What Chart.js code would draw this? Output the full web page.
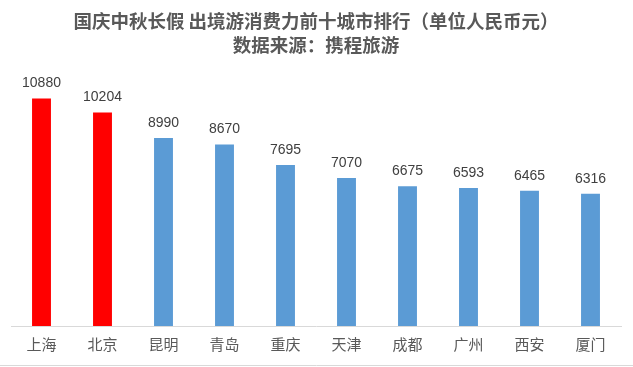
<!DOCTYPE html>
<html>
<head>
<meta charset="utf-8">
<script src="https://cdn.jsdelivr.net/npm/chart.js@4"></script>
<style>
  html, body { margin: 0; padding: 0; background: #fff; }
  #wrap { width: 633px; height: 367px; }
</style>
</head>
<body>
<div id="wrap"><canvas id="myChart" width="633" height="367"></canvas></div>
<script>
// 城市 / 消费力 (元)
var cities = ['上海', '北京', '昆明', '青岛', '重庆', '天津', '成都', '广州', '西安', '厦门'];
var spend = [10880, 10204, 8990, 8670, 7695, 7070, 6675, 6593, 6465, 6316];
var barColors = ['#FF0000', '#FF0000', '#5B9BD5', '#5B9BD5', '#5B9BD5',
                 '#5B9BD5', '#5B9BD5', '#5B9BD5', '#5B9BD5', '#5B9BD5'];
var titleLines = ['国庆中秋长假 出境游消费力前十城市排行（单位人民币元）', '数据来源：携程旅游'];

var fontFamily = '"Noto Sans CJK SC", "Microsoft YaHei", sans-serif';

// 柱子上的数值
var valueLabels = {
    id: 'valueLabels',
    afterDatasetsDraw: function(chart) {
        var ctx = chart.ctx;
        var meta = chart.getDatasetMeta(0);
        ctx.save();
        ctx.font = '14px "Liberation Sans", "Noto Sans", sans-serif';
        ctx.fillStyle = '#404040';
        ctx.textAlign = 'center';
        ctx.textBaseline = 'bottom';
        meta.data.forEach(function(bar, i) {
            ctx.fillText(String(spend[i]), bar.x, bar.y - 8);
        });
        ctx.restore();
    }
};

// 底部的灰色边线
var bottomLine = {
    id: 'bottomLine',
    afterDraw: function(chart) {
        var ctx = chart.ctx;
        ctx.save();
        ctx.strokeStyle = '#D9D9D9';
        ctx.lineWidth = 1;
        ctx.beginPath();
        ctx.moveTo(0, 365.5);
        ctx.lineTo(chart.width, 365.5);
        ctx.stroke();
        ctx.restore();
    }
};

var ctx = document.getElementById('myChart').getContext('2d');
var myChart = new Chart(ctx, {
    type: 'bar',
    data: {
        labels: cities,
        datasets: [{
            data: spend,
            backgroundColor: barColors,
            barPercentage: 0.31,
            categoryPercentage: 1.0
        }]
    },
    options: {
        responsive: false,
        animation: false,
        layout: { padding: { left: 11, right: 12, top: 6, bottom: 13 } },
        plugins: {
            legend: { display: false },
            tooltip: { enabled: false },
            title: {
                display: true,
                text: titleLines,
                color: '#595959',
                font: { family: fontFamily, size: 18.5, weight: 'bold', lineHeight: 1.35 },
                padding: { top: 2, bottom: 17 }
            }
        },
        scales: {
            x: {
                grid: { display: false },
                border: { display: true, color: '#D9D9D9', width: 1 },
                ticks: {
                    color: '#595959',
                    font: { family: fontFamily, size: 15 },
                    padding: 1
                }
            },
            y: {
                display: false,
                min: 0,
                max: 12000
            }
        }
    },
    plugins: [valueLabels, bottomLine]
});
</script>
</body>
</html>
